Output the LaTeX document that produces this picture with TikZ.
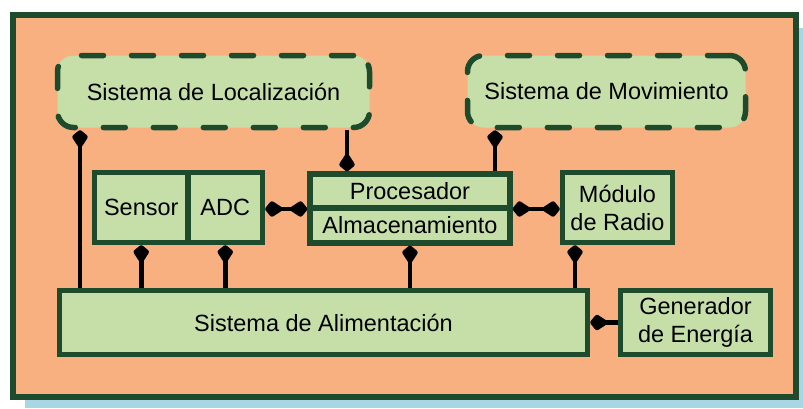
\documentclass[tikz,border=0pt]{standalone}
\usepackage{fontspec}
\setmainfont{Liberation Sans}
\usetikzlibrary{arrows.meta}
\definecolor{frameg}{HTML}{1D4B2B}
\definecolor{boxg}{HTML}{C6DFA8}
\definecolor{bgor}{HTML}{F8B080}
\definecolor{shadowb}{HTML}{A8D6E4}
\tikzset{
  blk/.style={draw=frameg, fill=boxg, line width=5.5pt, inner sep=0pt,
    font=\fontsize{23.5}{28}\selectfont, align=center},
  dblk/.style={blk, dash pattern=on 22pt off 28pt, line cap=round, rounded corners=16pt},
  tipb/.tip={Kite[length=20pt 0, width=17pt 0, inset=13pt 0, line width=5pt 0, round]},
  arr/.style={line width=4.5pt, -tipb},
  darr/.style={line width=4.5pt, tipb-tipb},
}
\begin{document}
\begin{tikzpicture}[x=1pt,y=-1pt]
\useasboundingbox (0,0) rectangle (803,408);
\fill[shadowb] (25,28) rectangle (803,408);
\draw[frameg, fill=bgor, line width=6pt] (13,15) rectangle (796,397);
% nodes
\node[dblk, minimum width=312pt, minimum height=72pt] (loc) at (213.5,91.5) {Sistema de Localización};
\node[dblk, minimum width=278pt, minimum height=72pt] (mov) at (606.5,91.5) {Sistema de Movimiento};
\node[blk, minimum width=93.5pt, minimum height=70pt] (sen) at (141.25,207.5) {Sensor};
\node[blk, minimum width=74.5pt, minimum height=70pt] (adc) at (225.25,207.5) {ADC};
\node[blk, minimum width=200pt, minimum height=34pt] (proc) at (410,191) {Procesador};
\node[blk, minimum width=200pt, minimum height=35pt] (alm) at (410,225.5) {Almacenamiento};
\node[blk, minimum width=110pt, minimum height=70pt] (rad) at (617.5,207.5) {Módulo\\de Radio};
\node[blk, minimum width=528pt, minimum height=64pt] (ali) at (323.5,322.5) {Sistema de Alimentación};
\node[blk, minimum width=150pt, minimum height=64pt] (gen) at (695.5,322.5) {Generador\\de Energía};
% connectors
\draw[arr, line width=3.5pt] (ali.north -| 80,0) -- (loc.south -| 80,0);
\draw[arr] (loc.south -| 347,0) -- (proc.north -| 347,0);
\draw[arr] (proc.north -| 495,0) -- (mov.south -| 495,0);
\draw[darr] (adc.east |- 0,209) -- (proc.west |- 0,209);
\draw[darr] (proc.east |- 0,209) -- (rad.west |- 0,209);
\draw[arr] (ali.north -| sen) -- (sen.south);
\draw[arr] (ali.north -| adc) -- (adc.south);
\draw[arr] (ali.north -| alm) -- (alm.south);
\draw[arr] (ali.north -| 575,0) -- (rad.south -| 575,0);
\draw[arr] (gen.west) -- (ali.east);
\end{tikzpicture}
\end{document}
